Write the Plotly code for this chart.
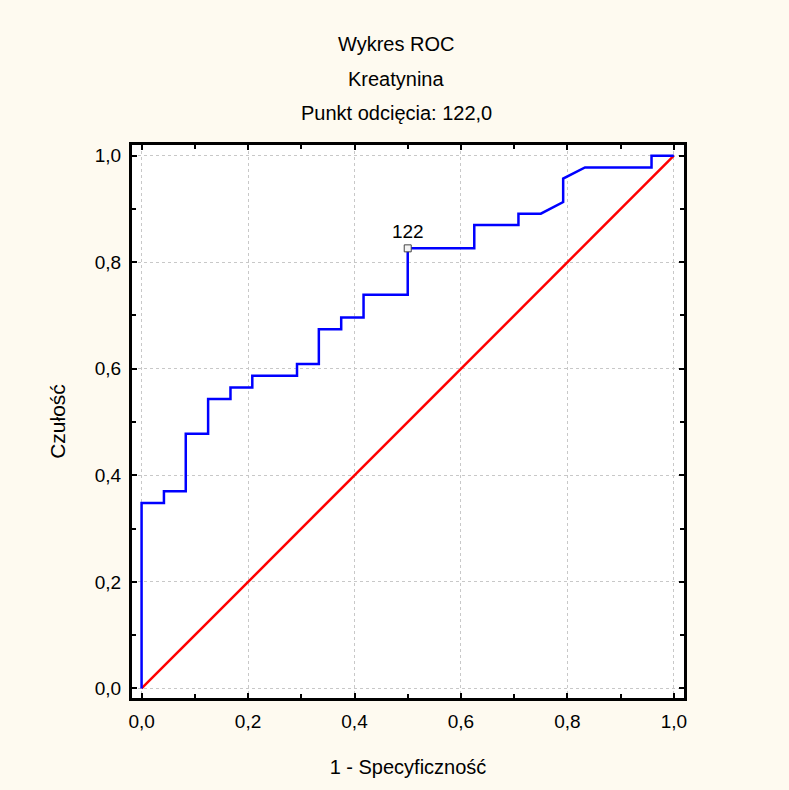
import plotly.graph_objects as go

# ROC curve data (1 - specificity, sensitivity)
fpr = [0, 0, 0.042, 0.042, 0.083, 0.083, 0.125, 0.125, 0.167, 0.167, 0.208, 0.208,
       0.292, 0.292, 0.333, 0.333, 0.375, 0.375, 0.417, 0.417, 0.5, 0.5, 0.625, 0.625,
       0.708, 0.708, 0.75, 0.792, 0.792, 0.833, 0.958, 0.958, 1.0]
tpr = [0, 0.348, 0.348, 0.370, 0.370, 0.478, 0.478, 0.543, 0.543, 0.565, 0.565, 0.587,
       0.587, 0.609, 0.609, 0.674, 0.674, 0.696, 0.696, 0.739, 0.739, 0.826, 0.826, 0.870,
       0.870, 0.891, 0.891, 0.913, 0.957, 0.978, 0.978, 1.0, 1.0]
ref_x = [0, 1]
ref_y = [0, 1]
cut_x = [0.5]
cut_y = [0.826]
cut_label = ["122"]
tick_vals = [0, 0.2, 0.4, 0.6, 0.8, 1.0]
tick_text = ["0,0", "0,2", "0,4", "0,6", "0,8", "1,0"]

FONT = "Liberation Sans, Arial, sans-serif"

fig = go.Figure()
fig.add_trace(go.Scatter(x=ref_x, y=ref_y, mode="lines",
                         line=dict(color="#FF0000", width=2.5), showlegend=False,
                         hoverinfo="skip"))
fig.add_trace(go.Scatter(x=fpr, y=tpr, mode="lines",
                         line=dict(color="#0000FF", width=2.5), showlegend=False))
fig.add_trace(go.Scatter(x=cut_x, y=cut_y, mode="markers+text", text=cut_label,
                         textposition="top center",
                         textfont=dict(family=FONT, size=19, color="black"),
                         marker=dict(symbol="square", size=7, color="#F4F4F4",
                                     line=dict(color="#444444", width=1)),
                         showlegend=False))

axis_common = dict(
    tickmode="array", tickvals=tick_vals, ticktext=tick_text,
    ticks="inside", ticklen=5, tickwidth=2, tickcolor="black",
    minor=dict(ticks="inside", ticklen=4, tickwidth=2, tickcolor="black", dtick=0.1,
               tick0=0, showgrid=False),
    showline=True, linecolor="black", linewidth=3, mirror="allticks",
    showgrid=True, gridcolor="#C8C8C8", griddash="3px,3px", gridwidth=1,
    zeroline=False,
    tickfont=dict(family=FONT, size=19, color="black"),
)

fig.update_xaxes(range=[-0.018, 1.019], ticklabelstandoff=4,
                 title=dict(text="1 - Specyficzność", font=dict(family=FONT, size=20, color="black"),
                            standoff=30),
                 **axis_common)
fig.update_yaxes(range=[-0.018, 1.02], ticklabelstandoff=4,
                 title=dict(text="Czułość", font=dict(family=FONT, size=21, color="black"),
                            standoff=24),
                 **axis_common)

titles = [("Wykres ROC", 45), ("Kreatynina", 79), ("Punkt odcięcia: 122,0", 113)]
for txt, ypix in titles:
    fig.add_annotation(text=txt, xref="paper", yref="paper",
                       x=(396 - 132) / 552, y=(698.5 - ypix) / 553,
                       showarrow=False, xanchor="center", yanchor="middle",
                       font=dict(family=FONT, size=20, color="black"))

fig.update_layout(
    width=789, height=790,
    margin=dict(l=132, r=105, t=145, b=92),
    paper_bgcolor="#FEFAF0", plot_bgcolor="white",
    font=dict(family=FONT, color="black"),
)

fig.write_html("out.html")
